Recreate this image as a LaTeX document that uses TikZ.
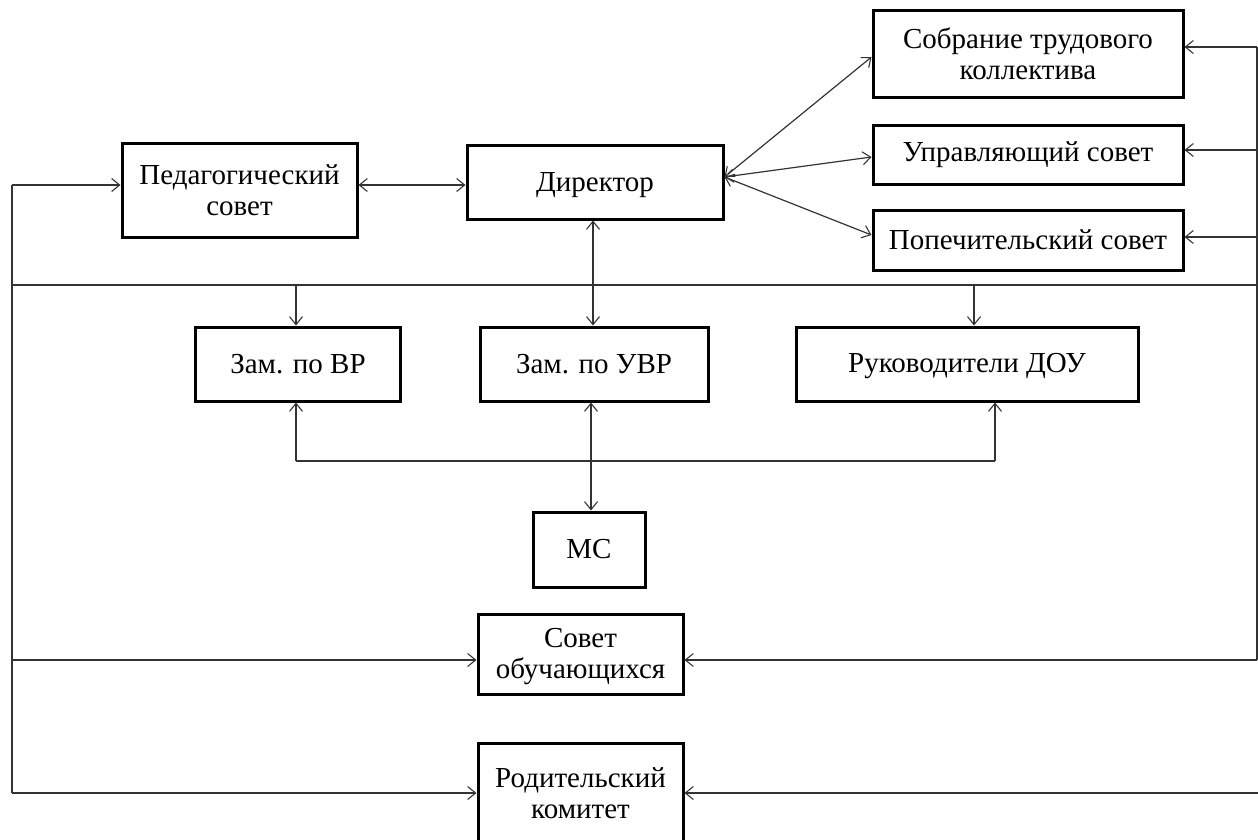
\documentclass[tikz,border=0pt]{standalone}
\usepackage{fontspec}
\setmainfont{Liberation Serif}
\usetikzlibrary{arrows.meta,calc}
\begin{document}
\begin{tikzpicture}[x=1pt,y=-1pt,
  box/.style={draw=black,line width=3pt,fill=white,rectangle,inner sep=0pt,align=center,
    font=\fontsize{29}{31}\selectfont},
  lbl/.style={font=\fontsize{29}{31}\selectfont,align=center,inner sep=0pt},
  conn/.style={draw=black!80,line width=1.2pt},
  arr/.style={conn,-{Straight Barb[length=8pt,width=13pt,line width=1.1pt]}},
  darr/.style={conn,{Straight Barb[length=8pt,width=13pt,line width=1.1pt]}-{Straight Barb[length=8pt,width=13pt,line width=1.1pt]}}]
\useasboundingbox (0,0) rectangle (1258,840);
\begin{scope}
\clip (0,0) rectangle (1258,840);
% boxes
\node[box,minimum width=310pt,minimum height=87pt] (sob) at (1028,54) {Собрание трудового\\коллектива};
\node[box,minimum width=310pt,minimum height=59pt] (upr) at (1028,155) {Управляющий совет};
\node[box,minimum width=310pt,minimum height=60pt] (pop) at (1028,240) {Попечительский совет};
\node[box,minimum width=235pt,minimum height=93pt] (ped) at (239.5,190.5) {Педагогический\\совет};
\node[box,minimum width=256pt,minimum height=73pt] (dir) at (595,182.5) {};
\node[lbl] (dirtxt) at (595,185.5) {Директор};
\node[box,minimum width=205pt,minimum height=74pt] (zvr) at (298,364) {Зам. по ВР};
\node[box,minimum width=228pt,minimum height=74pt] (zuvr) at (594,364) {Зам. по УВР};
\node[box,minimum width=342pt,minimum height=74pt] (ruk) at (967,364) {};
\node[lbl] (ruktxt) at (967,366) {Руководители ДОУ};
\node[box,minimum width=112pt,minimum height=75pt] (ms) at (589,549.5) {МС};
\node[box,minimum width=205pt,minimum height=80pt] (sov) at (580.5,654) {};
\node[lbl] (sovtxt) at (580.5,657) {Совет\\обучающихся};
\node[box,minimum width=205pt,minimum height=120pt] (rod) at (580.5,803) {};
\node[lbl] (rodtxt) at (580.5,793) {Родительский\\комитет};
% coordinates for buses
\coordinate (lTop) at (12,185);
\coordinate (lBot) at (12,793);
\coordinate (rTop) at (1257,47);
\coordinate (rBot) at (1257,660);
\coordinate (rEdge) at (1258,793);
\coordinate (busL) at (12,285);
\coordinate (busR) at (1257,285);
\coordinate (lowL) at (296,461);
\coordinate (lowR) at (995,461);
\coordinate (dirE) at ([yshift=5.5pt]dir.east);
% director fan
\draw[darr] (dirE) -- ([yshift=-3pt]sob.west);
\draw[darr] (dirE) -- ([yshift=-2pt]upr.west);
\draw[darr] (dirE) -- ([yshift=5pt]pop.west);
% ped - dir
\draw[darr] ([yshift=5.5pt]ped.east) -- ([yshift=-2.5pt]dir.west);
% right bus
\draw[conn] (rTop) -- (rBot);
\draw[arr] (rTop) -- (rTop -| sob.east);
\draw[arr] ([yshift=5pt]upr.east -| rTop) -- ([yshift=5pt]upr.east);
\draw[arr] ([yshift=3pt]pop.east -| rTop) -- ([yshift=3pt]pop.east);
\draw[arr] (rBot) -- (rBot -| sov.east);
\draw[arr] (rEdge) -- (rEdge -| rod.east);
% left bus
\draw[conn] (lTop) -- (lBot);
\draw[arr] (lTop) -- (lTop -| ped.west);
\draw[arr] (lTop |- rBot) -- (rBot -| sov.west);
\draw[arr] (lBot) -- (lBot -| rod.west);
% horizontal bus
\draw[conn] (busL) -- (busR);
\draw[arr] (busL -| lowL) -- (lowL |- zvr.north);
\draw[arr] ([xshift=7pt]ruk.north |- busL) -- ([xshift=7pt]ruk.north);
\draw[darr] ([xshift=-2pt]dir.south) -- ([xshift=-2pt]dir.south |- zuvr.north);
% lower bus
\draw[conn] (lowL) -- (lowR);
\draw[arr] (lowL) -- (lowL |- zvr.south);
\draw[arr] (lowR) -- (lowR |- ruk.south);
\draw[darr] ([xshift=-3pt]zuvr.south) -- ([xshift=-3pt]zuvr.south |- ms.north);
\end{scope}
\end{tikzpicture}
\end{document}
